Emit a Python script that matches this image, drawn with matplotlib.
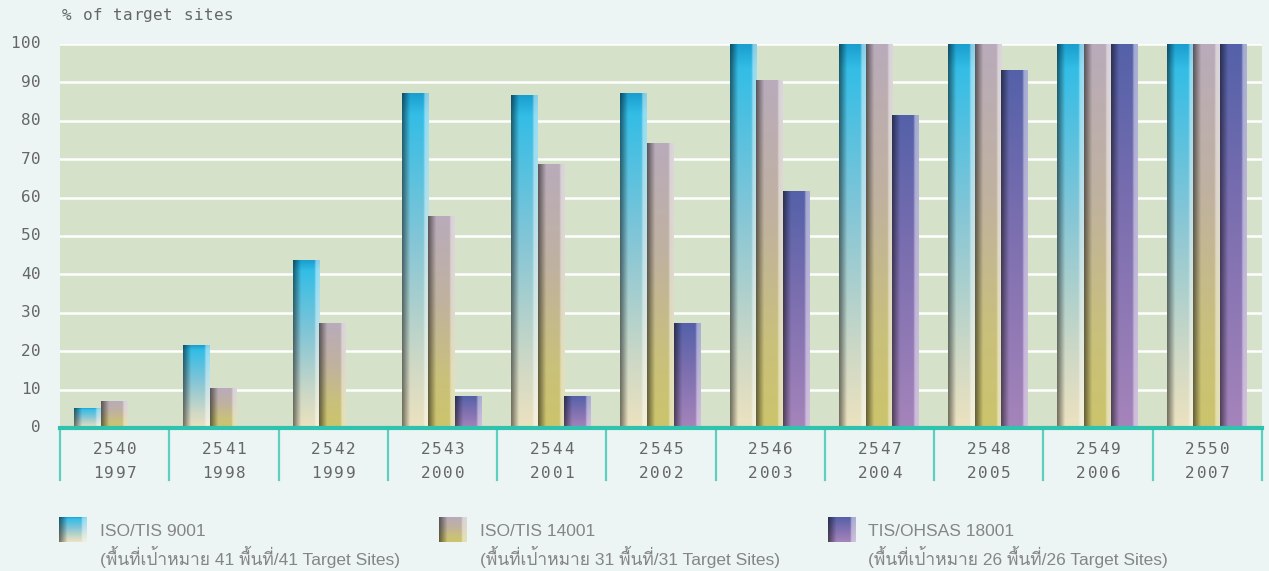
import numpy as np
import matplotlib
matplotlib.use("Agg")
import matplotlib.pyplot as plt
from matplotlib import font_manager
from matplotlib.ft2font import FT2Font
from matplotlib.transforms import offset_copy, blended_transform_factory

# data
years_be = ["2540", "2541", "2542", "2543", "2544", "2545", "2546", "2547", "2548", "2549", "2550"]
years_ad = ["1997", "1998", "1999", "2000", "2001", "2002", "2003", "2004", "2005", "2006", "2007"]
iso9001 = [5.2, 21.6, 43.5, 87.0, 86.7, 87.0, 100, 100, 100, 100, 100]
iso14001 = [6.8, 10.4, 27.1, 55.2, 68.5, 74.0, 90.6, 100, 100, 100, 100]
ohsas18001 = [0, 0, 0, 8.3, 8.3, 27.3, 61.5, 81.5, 93.0, 100, 100]
yticks = [0, 10, 20, 30, 40, 50, 60, 70, 80, 90, 100]
legend_names = ["ISO/TIS 9001", "ISO/TIS 14001", "TIS/OHSAS 18001"]
legend_notes = ["(พื้นที่เป้าหมาย 41 พื้นที่/41 Target Sites)",
                "(พื้นที่เป้าหมาย 31 พื้นที่/31 Target Sites)",
                "(พื้นที่เป้าหมาย 26 พื้นที่/26 Target Sites)"]

# vertical colour stops (top -> bottom) for each series
stops = [
    [(0.0, "#1a9fcf"), (0.06, "#33bde6"), (0.45, "#86c6d6"), (0.8, "#cdd8c6"), (1.0, "#ece2bf")],
    [(0.0, "#b9abba"), (0.4, "#c0b29f"), (0.75, "#c9c07c"), (1.0, "#cdc46c")],
    [(0.0, "#5461a9"), (0.45, "#7c6fb0"), (1.0, "#a584ba")],
]

# find a font that can draw Thai
thai_font = None
for f in font_manager.fontManager.ttflist:
    try:
        if 0x0E1E in FT2Font(f.fname).get_charmap():
            thai_font = f.name
            break
    except Exception:
        pass
legend_family = ["Liberation Sans"] + ([thai_font] if thai_font else []) + ["DejaVu Sans"]

fig_bg = "#ecf5f4"
plot_bg = "#d6e1ca"
teal = "#2fc2ae"
grey = "#666666"
mono = "DejaVu Sans Mono"


def hex2rgb(h):
    return np.array([int(h[i:i + 2], 16) / 255 for i in (1, 3, 5)])


def gradient(st, n=160, m=40):
    t = np.linspace(0, 1, n)
    pos = [p for p, _ in st]
    cols = np.array([hex2rgb(c) for _, c in st])
    col = np.stack([np.interp(t, pos, cols[:, k]) for k in range(3)], axis=1)
    xs = np.linspace(0, 1, m)
    dark = np.interp(xs, [0, 0.08, 0.3, 1], [0.5, 0.62, 1.0, 1.0])
    light = np.interp(xs, [0, 0.8, 0.86, 1], [0, 0, 0.45, 0.5])
    img = col[:, None, :] * dark[None, :, None]
    img = img + (1 - img) * light[None, :, None]
    return np.clip(img, 0, 1)


W, H = 1269, 571
fig = plt.figure(figsize=(W / 100, H / 100), dpi=100, facecolor=fig_bg)
ax = fig.add_axes([60 / W, (H - 428) / H, (1262 - 60) / W, (428 - 44) / H])
ax.set_facecolor(plot_bg)
for s in ax.spines.values():
    s.set_visible(False)
ax.set_xticks([])
ax.set_yticks([])

for v in yticks[1:]:
    ax.axhline(v, color="white", lw=1.8, zorder=1)

bw = 0.244
imgs = [gradient(st) for st in stops]
for si, series in enumerate([iso9001, iso14001, ohsas18001]):
    for i, v in enumerate(series):
        if v <= 0:
            continue
        x0 = i - 0.006 + (si - 1) * bw - bw / 2
        ax.imshow(imgs[si], extent=[x0, x0 + bw, 0, v], aspect="auto",
                  origin="upper", interpolation="bilinear", zorder=2)
ax.set_xlim(-0.5, len(years_be) - 0.5)
ax.set_ylim(0, 100)

# baseline and group separators
ax.axhline(0, color=teal, lw=3, zorder=4, clip_on=False)
xt = ax.get_xaxis_transform()
for b in np.arange(-0.5, len(years_be), 1.0):
    ax.plot([b, b], [0, -52 / 384], transform=xt, color="#5ccfbf", lw=1.6,
            clip_on=False, zorder=3)


def spaced(x, y, s, trans, step, anchor="center", size=11, color=grey, family=mono):
    # letter-spaced text, one glyph at a time
    n = len(s)
    if anchor == "center":
        start = -(n - 1) / 2 * step
    elif anchor == "right":
        start = -(n - 1) * step
    else:
        start = 0
    for i, ch in enumerate(s):
        tr = offset_copy(trans, fig=fig, x=(start + i * step) * 0.72, y=0, units="points")
        fig.text(x, y, ch, transform=tr, ha="center", va="center",
                 fontsize=size, color=color, family=family)


for i, (a, b) in enumerate(zip(years_be, years_ad)):
    spaced(i, -21 / 384, a, xt, 11.5, size=11.5)
    spaced(i, -45 / 384, b, xt, 11.5, size=11.5)

yt = blended_transform_factory(fig.transFigure, ax.transData)
for v in yticks:
    spaced(36 / W, v, str(v), yt, 10.5, anchor="right", size=11.5)

spaced(67 / W, 1 - 15 / H, "% of target sites", fig.transFigure, 10.1, anchor="left", size=11.5)

# legend
patch_x = [59, 439, 828]
text_x = [100, 480, 868]
for k in range(3):
    lax = fig.add_axes([patch_x[k] / W, (H - 542) / H, 28 / W, 25 / H])
    lax.imshow(gradient(stops[k], m=28), aspect="auto", interpolation="bilinear")
    lax.axis("off")
    fig.text(text_x[k] / W, 1 - 531 / H, legend_names[k], ha="left", va="center",
             fontsize=12.5, color="#858585", family=legend_family)
    fig.text(text_x[k] / W, 1 - 557 / H, legend_notes[k], ha="left", va="center",
             fontsize=12.5, color="#858585", family=legend_family)

fig.savefig("out.png", dpi=100, facecolor=fig_bg)
